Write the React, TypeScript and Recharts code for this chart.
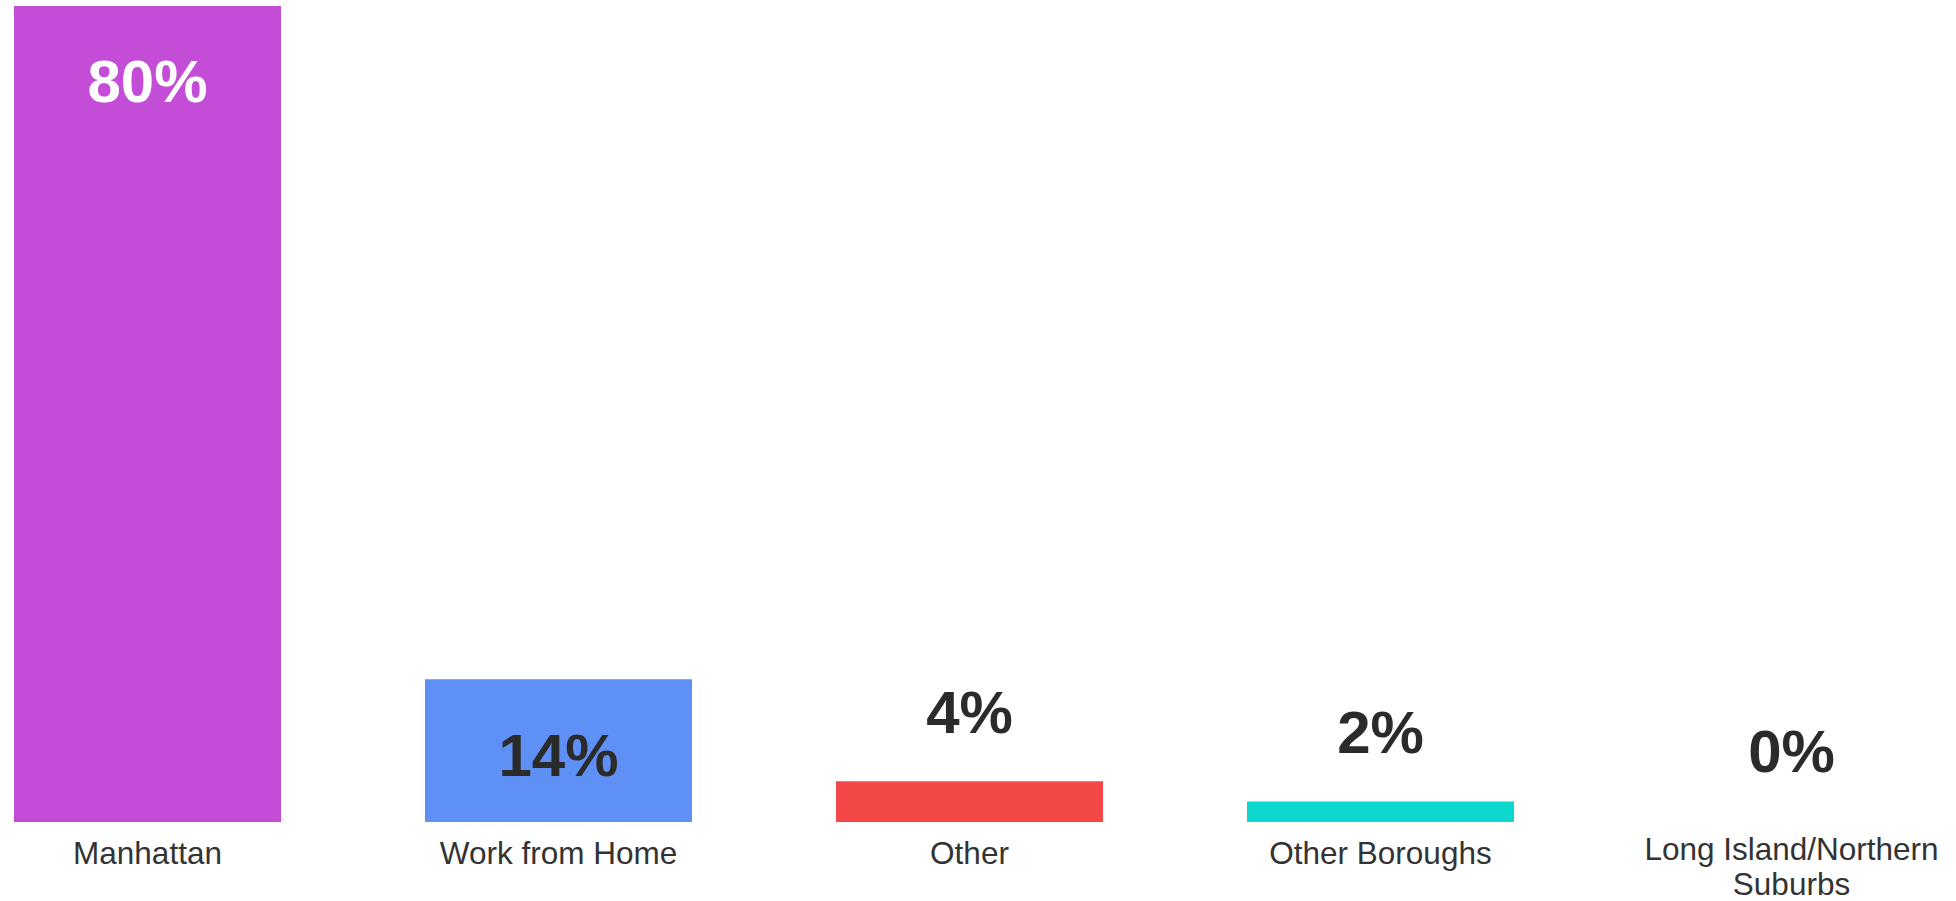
import React from 'react';
import { BarChart, Bar, XAxis, YAxis, Cell, LabelList } from 'recharts';

const categories = ['Manhattan', 'Work from Home', 'Other', 'Other Boroughs', 'Long Island/Northern Suburbs'];
const shares = [80, 14, 4, 2, 0];

const barColors = ['#c44dd7', '#5f90f5', '#f44747', '#0dd6cc', '#999999'];
const labelColors = ['#ffffff', '#2b2b2b', '#2b2b2b', '#2b2b2b', '#2b2b2b'];

const data = categories.map((name, i) => ({ name, share: shares[i] }));

const FONT = '"Liberation Sans", Arial, Helvetica, sans-serif';
const TICK_SIZE = 31.5;

let ctx: CanvasRenderingContext2D | null = null;
const measure = (s: string) => {
  if (!ctx) {
    ctx = document.createElement('canvas').getContext('2d');
  }
  if (!ctx) return s.length * TICK_SIZE * 0.55;
  ctx.font = `${TICK_SIZE}px ${FONT}`;
  return ctx.measureText(s).width;
};

const wrap = (label: string, maxWidth: number) => {
  const lines: string[] = [];
  let cur = '';
  label.split(' ').forEach((w) => {
    const next = cur ? `${cur} ${w}` : w;
    if (cur && measure(next) > maxWidth) {
      lines.push(cur);
      cur = w;
    } else {
      cur = next;
    }
  });
  if (cur) lines.push(cur);
  return lines;
};

const CategoryTick = (props: any) => {
  const { x, y, payload } = props;
  const lines = wrap(payload.value, 380);
  return (
    <text
      x={x}
      y={y}
      textAnchor="middle"
      fill="#333333"
      style={{ fontFamily: FONT, fontSize: TICK_SIZE }}
    >
      {lines.map((ln, i) => (
        <tspan key={i} x={x} dy={i === 0 ? TICK_SIZE * 0.71 - (lines.length > 1 ? 4 : 0) : 35}>
          {ln}
        </tspan>
      ))}
    </text>
  );
};

const ValueLabel = (props: any) => {
  const { x, y, width, height, value, index } = props;
  const size = 60;
  const inside = height > 120;
  // text centre sits ~75px below the bar top when inside, ~70px above it otherwise
  const centre = inside ? y + 75 : y - 70;
  return (
    <text
      x={x + width / 2}
      y={centre + size * 0.358}
      textAnchor="middle"
      fill={labelColors[index]}
      style={{ fontFamily: FONT, fontSize: size, fontWeight: 700 }}
    >
      {`${value}%`}
    </text>
  );
};

export default function App() {
  return (
    <div style={{ position: 'absolute', left: 0, top: 0, width: 1956, height: 901, overflow: 'hidden', background: '#fff' }}>
      <div style={{ position: 'absolute', left: -58, top: 0 }}>
        <BarChart
          width={2055}
          height={901}
          data={data}
          margin={{ top: 6, right: 0, left: 0, bottom: 0 }}
        >
          <XAxis
            dataKey="name"
            axisLine={false}
            tickLine={false}
            tickSize={0}
            tickMargin={20}
            height={79}
            interval={0}
            tick={<CategoryTick />}
          />
          <YAxis hide domain={[0, 80]} />
          {/* minPointSize keeps the 0% entry in the layout so its label is drawn */}
          <Bar dataKey="share" barSize={267} minPointSize={1} isAnimationActive={false}>
            {data.map((d, i) => (
              <Cell key={d.name} fill={barColors[i]} fillOpacity={d.share === 0 ? 0 : 1} />
            ))}
            <LabelList dataKey="share" content={<ValueLabel />} />
          </Bar>
        </BarChart>
      </div>
    </div>
  );
}
